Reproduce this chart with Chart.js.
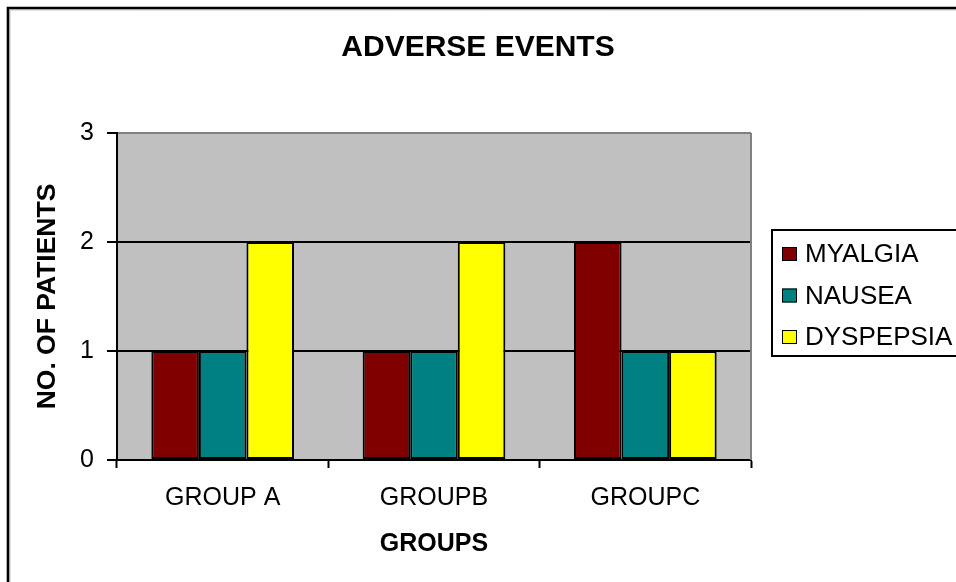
<!DOCTYPE html>
<html lang="en">
<head>
<meta charset="UTF-8">
<title>Adverse Events</title>
<script src="https://cdn.jsdelivr.net/npm/chart.js"></script>
<style>
  html, body { margin: 0; padding: 0; background: #fff; overflow: hidden; }
  canvas { display: block; }
</style>
</head>
<body>
<canvas id="events-chart" width="956" height="582"></canvas>
<script>
// data
const groups = ["GROUP A", "GROUPB", "GROUPC"];
const myalgia = [1, 1, 2];
const nausea = [1, 1, 1];
const dyspepsia = [2, 2, 1];
const yTicks = [0, 1, 2, 3];

const FONT = "Arial, 'Liberation Sans', sans-serif";

// grey plot background, outer frame and boxed legend
const frame = {
  id: 'frame',
  beforeDraw(chart) {
    const { ctx, chartArea: a } = chart;
    ctx.save();
    ctx.fillStyle = '#C0C0C0';
    ctx.fillRect(a.left, a.top, a.right - a.left, a.bottom - a.top);
    ctx.restore();
  },
  afterDraw(chart) {
    const { ctx, chartArea: a } = chart;
    ctx.save();

    // right edge of the plot area
    ctx.strokeStyle = '#808080';
    ctx.lineWidth = 2;
    ctx.beginPath();
    ctx.moveTo(a.right, a.top);
    ctx.lineTo(a.right, a.bottom);
    ctx.stroke();

    // chart frame (left and top edges only, the rest runs off the page)
    ctx.strokeStyle = '#000';
    ctx.lineWidth = 2.6;
    ctx.beginPath();
    ctx.moveTo(8, chart.height + 5);
    ctx.lineTo(8, 8);
    ctx.lineTo(chart.width + 5, 8);
    ctx.stroke();
    ctx.strokeStyle = '#9a9a9a';
    ctx.lineWidth = 1;
    ctx.beginPath();
    ctx.moveTo(9.8, chart.height + 5);
    ctx.lineTo(9.8, 9.8);
    ctx.lineTo(chart.width + 5, 9.8);
    ctx.stroke();

    // legend
    ctx.strokeStyle = '#000';
    ctx.lineWidth = 2;
    ctx.strokeRect(772, 230, 240, 126);
    ctx.font = '26px ' + FONT;
    ctx.textBaseline = 'middle';
    chart.data.datasets.forEach((ds, i) => {
      const cy = 254 + i * 41.5;
      ctx.fillStyle = ds.backgroundColor;
      ctx.fillRect(782, cy - 7, 15, 14);
      ctx.lineWidth = 1;
      ctx.strokeStyle = '#000';
      ctx.strokeRect(782.5, cy - 6.5, 14, 13);
      ctx.fillStyle = '#000';
      ctx.fillText(ds.label, 805, cy + 1);
    });
    ctx.restore();
  }
};

const barStyle = { borderColor: '#000', borderWidth: 2, borderSkipped: false };

new Chart(document.getElementById('events-chart'), {
  type: 'bar',
  data: {
    labels: groups,
    datasets: [
      { label: 'MYALGIA', data: myalgia, backgroundColor: '#800000', ...barStyle },
      { label: 'NAUSEA', data: nausea, backgroundColor: '#008080', ...barStyle },
      { label: 'DYSPEPSIA', data: dyspepsia, backgroundColor: '#FFFF00', ...barStyle }
    ]
  },
  options: {
    responsive: false,
    animation: false,
    categoryPercentage: 0.675,
    barPercentage: 1,
    layout: { padding: 0 },
    plugins: {
      legend: { display: false },
      tooltip: { enabled: false },
      title: {
        display: true,
        text: 'ADVERSE EVENTS',
        color: '#000',
        font: { family: FONT, size: 30, weight: 'bold' },
        padding: { top: 30, bottom: 67 }
      }
    },
    scales: {
      x: {
        grid: { drawOnChartArea: false, drawTicks: true, tickLength: 8, tickColor: '#000', tickWidth: 2, offset: true },
        border: { color: '#000', width: 2 },
        ticks: { color: '#000', font: { family: FONT, size: 25 }, padding: 15 },
        title: {
          display: true,
          text: 'GROUPS',
          color: '#000',
          font: { family: FONT, size: 25, weight: 'bold' },
          padding: { top: 0, bottom: 22.5 }
        },
        afterFit(s) { s.height = 122; }
      },
      y: {
        min: 0,
        max: 3,
        afterBuildTicks(s) { s.ticks = yTicks.map(v => ({ value: v })); },
        grid: {
          color: c => (c.tick && c.tick.value === 3 ? '#808080' : '#000'),
          lineWidth: 2,
          tickLength: 10,
          tickColor: '#000'
        },
        border: { color: '#000', width: 2 },
        ticks: { color: '#000', font: { family: FONT, size: 25 }, padding: 13 },
        title: {
          display: true,
          text: 'NO. OF PATIENTS',
          color: '#000',
          font: { family: FONT, size: 26.5, weight: 'bold' },
          padding: { top: 32.2, bottom: 0 }
        },
        afterFit(s) { s.width = 117; }
      },
      // empty right-hand box that reserves room for the legend
      side: {
        display: false,
        position: 'right',
        afterFit(s) { s.width = 205; }
      }
    }
  },
  plugins: [frame]
});
</script>
</body>
</html>
